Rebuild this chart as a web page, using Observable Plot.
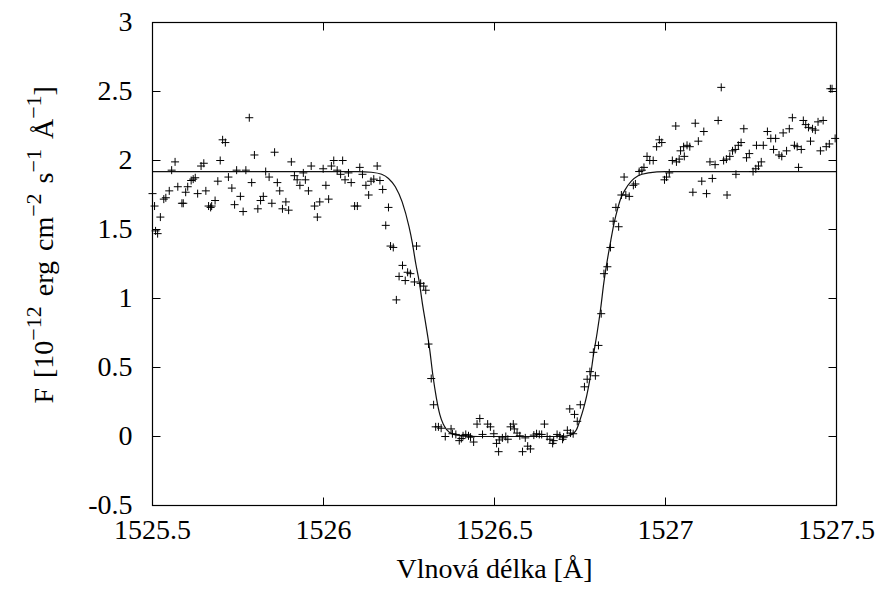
<!DOCTYPE html>
<html>
<head>
<meta charset="utf-8">
<script src="https://cdn.jsdelivr.net/npm/d3@7"></script>
<script src="https://cdn.jsdelivr.net/npm/@observablehq/plot@0.6"></script>
<style>
  html, body { margin: 0; padding: 0; background: #fff; }
  #chart svg { display: block; }
  #chart svg text { font-family: "Liberation Serif", "Times New Roman", Times, serif; }
</style>
</head>
<body>
<div id="chart"></div>
<script>
// Observed spectrum: wavelength [Å] and flux [1e-12 erg cm^-2 s^-1 Å^-1]
const wavelength = [
  1525.500, 1525.506, 1525.509, 1525.515, 1525.523, 1525.533, 1525.539, 1525.549, 1525.556, 1525.566,
  1525.574, 1525.586, 1525.590, 1525.597, 1525.603, 1525.613, 1525.619, 1525.625, 1525.632, 1525.642,
  1525.650, 1525.656, 1525.664, 1525.670, 1525.673, 1525.683, 1525.691, 1525.698, 1525.705, 1525.713,
  1525.722, 1525.732, 1525.740, 1525.746, 1525.757, 1525.765, 1525.773, 1525.783, 1525.790, 1525.798,
  1525.808, 1525.816, 1525.824, 1525.831, 1525.841, 1525.849, 1525.857, 1525.865, 1525.872, 1525.880,
  1525.890, 1525.898, 1525.906, 1525.915, 1525.923, 1525.931, 1525.941, 1525.947, 1525.956, 1525.964,
  1525.974, 1525.982, 1525.989, 1525.999, 1526.007, 1526.015, 1526.023, 1526.030, 1526.040, 1526.050,
  1526.056, 1526.063, 1526.073, 1526.081, 1526.091, 1526.099, 1526.106, 1526.114, 1526.124, 1526.132,
  1526.139, 1526.147, 1526.157, 1526.165, 1526.173, 1526.182, 1526.190, 1526.196, 1526.204, 1526.213,
  1526.221, 1526.231, 1526.239, 1526.246, 1526.254, 1526.266, 1526.272, 1526.284, 1526.293, 1526.299,
  1526.307, 1526.315, 1526.322, 1526.328, 1526.336, 1526.344, 1526.356, 1526.373, 1526.377, 1526.387,
  1526.397, 1526.403, 1526.408, 1526.416, 1526.424, 1526.430, 1526.439, 1526.449, 1526.457, 1526.465,
  1526.480, 1526.488, 1526.498, 1526.506, 1526.512, 1526.514, 1526.523, 1526.533, 1526.539, 1526.547,
  1526.555, 1526.558, 1526.566, 1526.574, 1526.582, 1526.590, 1526.597, 1526.605, 1526.615, 1526.623,
  1526.631, 1526.638, 1526.646, 1526.654, 1526.662, 1526.670, 1526.673, 1526.683, 1526.691, 1526.699,
  1526.702, 1526.713, 1526.720, 1526.722, 1526.730, 1526.734, 1526.742, 1526.751, 1526.763, 1526.771,
  1526.779, 1526.789, 1526.795, 1526.804, 1526.812, 1526.820, 1526.830, 1526.839, 1526.847, 1526.855,
  1526.863, 1526.871, 1526.879, 1526.884, 1526.894, 1526.906, 1526.912, 1526.923, 1526.931, 1526.937,
  1526.946, 1526.954, 1526.964, 1526.974, 1526.982, 1526.989, 1526.997, 1527.003, 1527.011, 1527.020,
  1527.030, 1527.032, 1527.040, 1527.044, 1527.053, 1527.055, 1527.063, 1527.071, 1527.080, 1527.087,
  1527.096, 1527.106, 1527.112, 1527.120, 1527.130, 1527.137, 1527.145, 1527.154, 1527.163, 1527.170,
  1527.178, 1527.180, 1527.188, 1527.196, 1527.204, 1527.206, 1527.213, 1527.221, 1527.229, 1527.237,
  1527.245, 1527.256, 1527.264, 1527.266, 1527.272, 1527.280, 1527.286, 1527.298, 1527.308, 1527.316,
  1527.322, 1527.332, 1527.340, 1527.344, 1527.354, 1527.362, 1527.371, 1527.377, 1527.385, 1527.389,
  1527.397, 1527.403, 1527.410, 1527.418, 1527.424, 1527.430, 1527.438, 1527.446, 1527.453, 1527.461,
  1527.470, 1527.479, 1527.482, 1527.487, 1527.496
];
const flux = [
  1.76, 1.67, 1.49, 1.47, 1.59, 1.72, 1.73, 1.78, 1.93, 1.99,
  1.81, 1.69, 1.69, 1.77, 1.81, 1.855, 1.865, 1.875, 1.76, 1.96,
  1.98, 1.78, 1.67, 1.66, 1.67, 1.71, 1.85, 2.00, 2.15, 2.13,
  1.88, 1.80, 1.68, 1.93, 1.74, 1.63, 1.93, 2.31, 1.84, 2.04,
  1.65, 1.71, 1.74, 1.92, 1.88, 1.69, 2.06, 1.84, 1.78, 1.65,
  1.70, 1.64, 1.99, 1.89, 1.86, 1.82, 1.91, 1.86, 1.78, 1.96,
  1.67, 1.59, 1.70, 1.94, 1.82, 1.72, 1.96, 2.00, 1.93, 1.90,
  2.00, 1.86, 1.91, 1.84, 1.67, 1.67, 1.95, 1.90, 1.82, 1.75,
  1.85, 1.865, 1.96, 1.855, 1.79, 1.53, 1.66, 1.38, 1.37, 0.99,
  1.16, 1.24, 1.13, 1.19, 1.18, 1.12, 1.38, 1.11, 1.09, 1.06,
  0.67, 0.42, 0.23, 0.07, 0.07, 0.06, 0.00, 0.055, 0.02, 0.015,
  -0.03, -0.015, 0.005, 0.015, 0.005, -0.005, -0.04, 0.09, 0.13, 0.015,
  0.09, 0.07, 0.02, -0.05, -0.11, -0.025, -0.01, 0.00, -0.02, 0.07,
  0.09, 0.055, 0.025, 0.005, -0.11, -0.01, -0.07, -0.09, 0.01, 0.02,
  0.015, 0.015, 0.09, 0.00, -0.02, -0.05, -0.03, 0.015, 0.005, -0.02,
  -0.005, 0.045, 0.20, 0.025, 0.02, 0.16, 0.11, 0.23, 0.36, 0.415,
  0.47, 0.61, 0.44, 0.66, 0.89, 1.18, 1.23, 1.37, 1.56, 1.66,
  1.52, 1.75, 1.88, 1.75, 1.74, 1.82, 1.83, 1.92, 1.93, 1.95,
  2.03, 2.00, 2.00, 2.10, 2.15, 2.13, 1.86, 1.88, 1.91, 2.00,
  2.25, 1.99, 2.01, 2.07, 2.10, 2.03, 2.11, 2.10, 1.77, 2.27,
  2.14, 1.85, 2.21, 1.76, 1.99, 1.87, 1.97, 2.29, 2.53, 2.00,
  2.01, 1.75, 2.03, 2.07, 2.08, 1.90, 2.11, 2.13, 2.23, 2.02,
  2.05, 1.92, 1.94, 2.11, 1.96, 1.99, 2.11, 2.21, 2.16, 2.08,
  2.16, 2.04, 2.03, 2.20, 2.07, 2.23, 2.31, 2.11, 2.10, 1.95,
  2.08, 2.29, 2.26, 2.24, 2.14, 2.23, 2.22, 2.28, 2.07, 2.29,
  2.10, 2.12, 2.52, 2.52, 2.16
];

// Fitted absorption profile
const fitWavelength = [
  1525.50, 1526.10, 1526.14, 1526.17, 1526.19, 1526.21, 1526.23, 1526.25, 1526.26, 1526.27,
  1526.28, 1526.29, 1526.30, 1526.31, 1526.32, 1526.33, 1526.34, 1526.35, 1526.36, 1526.38,
  1526.41, 1526.45, 1526.70, 1526.72, 1526.73, 1526.74, 1526.75, 1526.76, 1526.77, 1526.78,
  1526.79, 1526.80, 1526.81, 1526.82, 1526.83, 1526.84, 1526.85, 1526.86, 1526.87, 1526.88,
  1526.90, 1526.92, 1526.95, 1527.00, 1527.50
];
const fitFlux = [
  1.92, 1.92, 1.915, 1.90, 1.87, 1.81, 1.70, 1.52, 1.40, 1.25,
  1.12, 0.95, 0.80, 0.64, 0.44, 0.28, 0.16, 0.09, 0.05, 0.015,
  0.005, 0.0, 0.0, 0.01, 0.02, 0.05, 0.12, 0.20, 0.30, 0.43,
  0.60, 0.75, 0.92, 1.12, 1.28, 1.42, 1.55, 1.65, 1.73, 1.78,
  1.85, 1.89, 1.91, 1.92, 1.92
];

const xTicks = [1525.5, 1526, 1526.5, 1527, 1527.5];
const yTicks = [-0.5, 0, 0.5, 1, 1.5, 2, 2.5, 3];
const xDomain = [1525.5, 1527.5];
const yDomain = [-0.5, 3];
const xLabel = "Vlnová délka [Å]";

const observed = wavelength.map((w, i) => ({w, f: flux[i]}));
const fit = fitWavelength.map((w, i) => ({w, f: fitFlux[i]}));

// thin "+" point marker
const plus = {draw(ctx) { ctx.moveTo(-4, 0); ctx.lineTo(4, 0); ctx.moveTo(0, -4); ctx.lineTo(0, 4); }};
// inward tick: a short segment from the anchor point in direction (dx, dy)
const tick = (dx, dy) => ({draw(ctx) { ctx.moveTo(0, 0); ctx.lineTo(dx, dy); }});
const TL = 8;

const font = "Liberation Serif, Times New Roman, Times, serif";
const FS = 28;

const chart = Plot.plot({
  width: 883,
  height: 593,
  marginLeft: 152,
  marginRight: 47,
  marginTop: 22,
  marginBottom: 88,
  style: {fontFamily: font, fontSize: FS + "px", background: "#fff", color: "#000"},
  x: {domain: xDomain},
  y: {domain: yDomain},
  marks: [
    Plot.axisX({ticks: xTicks, anchor: "bottom", tickSize: 0, tickPadding: 14, tickFormat: d => String(d), fontSize: FS, label: null}),
    Plot.axisY({ticks: yTicks, anchor: "left", tickSize: 0, tickPadding: 20, tickFormat: d => String(d), fontSize: FS, label: null}),
    // tick marks pointing into the plot on all four sides
    Plot.dot(yTicks, {x: xDomain[0], y: d => d, symbol: tick(TL, 0), fill: "none", stroke: "#000", strokeWidth: 1}),
    Plot.dot(yTicks, {x: xDomain[1], y: d => d, symbol: tick(-TL, 0), fill: "none", stroke: "#000", strokeWidth: 1}),
    Plot.dot(xTicks, {x: d => d, y: yDomain[0], symbol: tick(0, -TL), fill: "none", stroke: "#000", strokeWidth: 1}),
    Plot.dot(xTicks, {x: d => d, y: yDomain[1], symbol: tick(0, TL), fill: "none", stroke: "#000", strokeWidth: 1}),
    Plot.line(fit, {x: "w", y: "f", stroke: "#111", strokeWidth: 1.2, curve: "monotone-x"}),
    Plot.dot(observed, {x: "w", y: "f", symbol: plus, fill: "none", stroke: "#000", strokeWidth: 1}),
    Plot.text([xLabel], {text: d => d, frameAnchor: "bottom", dy: 72, fontSize: FS, fill: "#000"}),
    Plot.frame({stroke: "#000", strokeWidth: 1.2})
  ]
});

// rotated y-axis title with superscript exponents
const ySvg = d3.select(chart);
const yCenter = chart.scale("y").apply(1.385);
const yt = ySvg.append("text")
  .attr("transform", `translate(53,${yCenter}) rotate(-90)`)
  .attr("text-anchor", "middle")
  .attr("font-family", font)
  .attr("font-size", FS)
  .style("word-spacing", "3px")
  .attr("fill", "#000");
const parts = [
  ["F [10", false], ["−12", true], [" erg cm", false], ["−2", true],
  [" s", false], ["−1", true], [" Å", false], ["−1", true], ["]", false]
];
let raised = false;
for (const [s, sup] of parts) {
  const t = yt.append("tspan").text(s);
  if (sup && !raised) { t.attr("dy", -12).attr("font-size", 22); raised = true; }
  else if (sup) { t.attr("font-size", 22); }
  else if (raised) { t.attr("dy", 12); raised = false; }
}

document.getElementById("chart").append(chart);
</script>
</body>
</html>
